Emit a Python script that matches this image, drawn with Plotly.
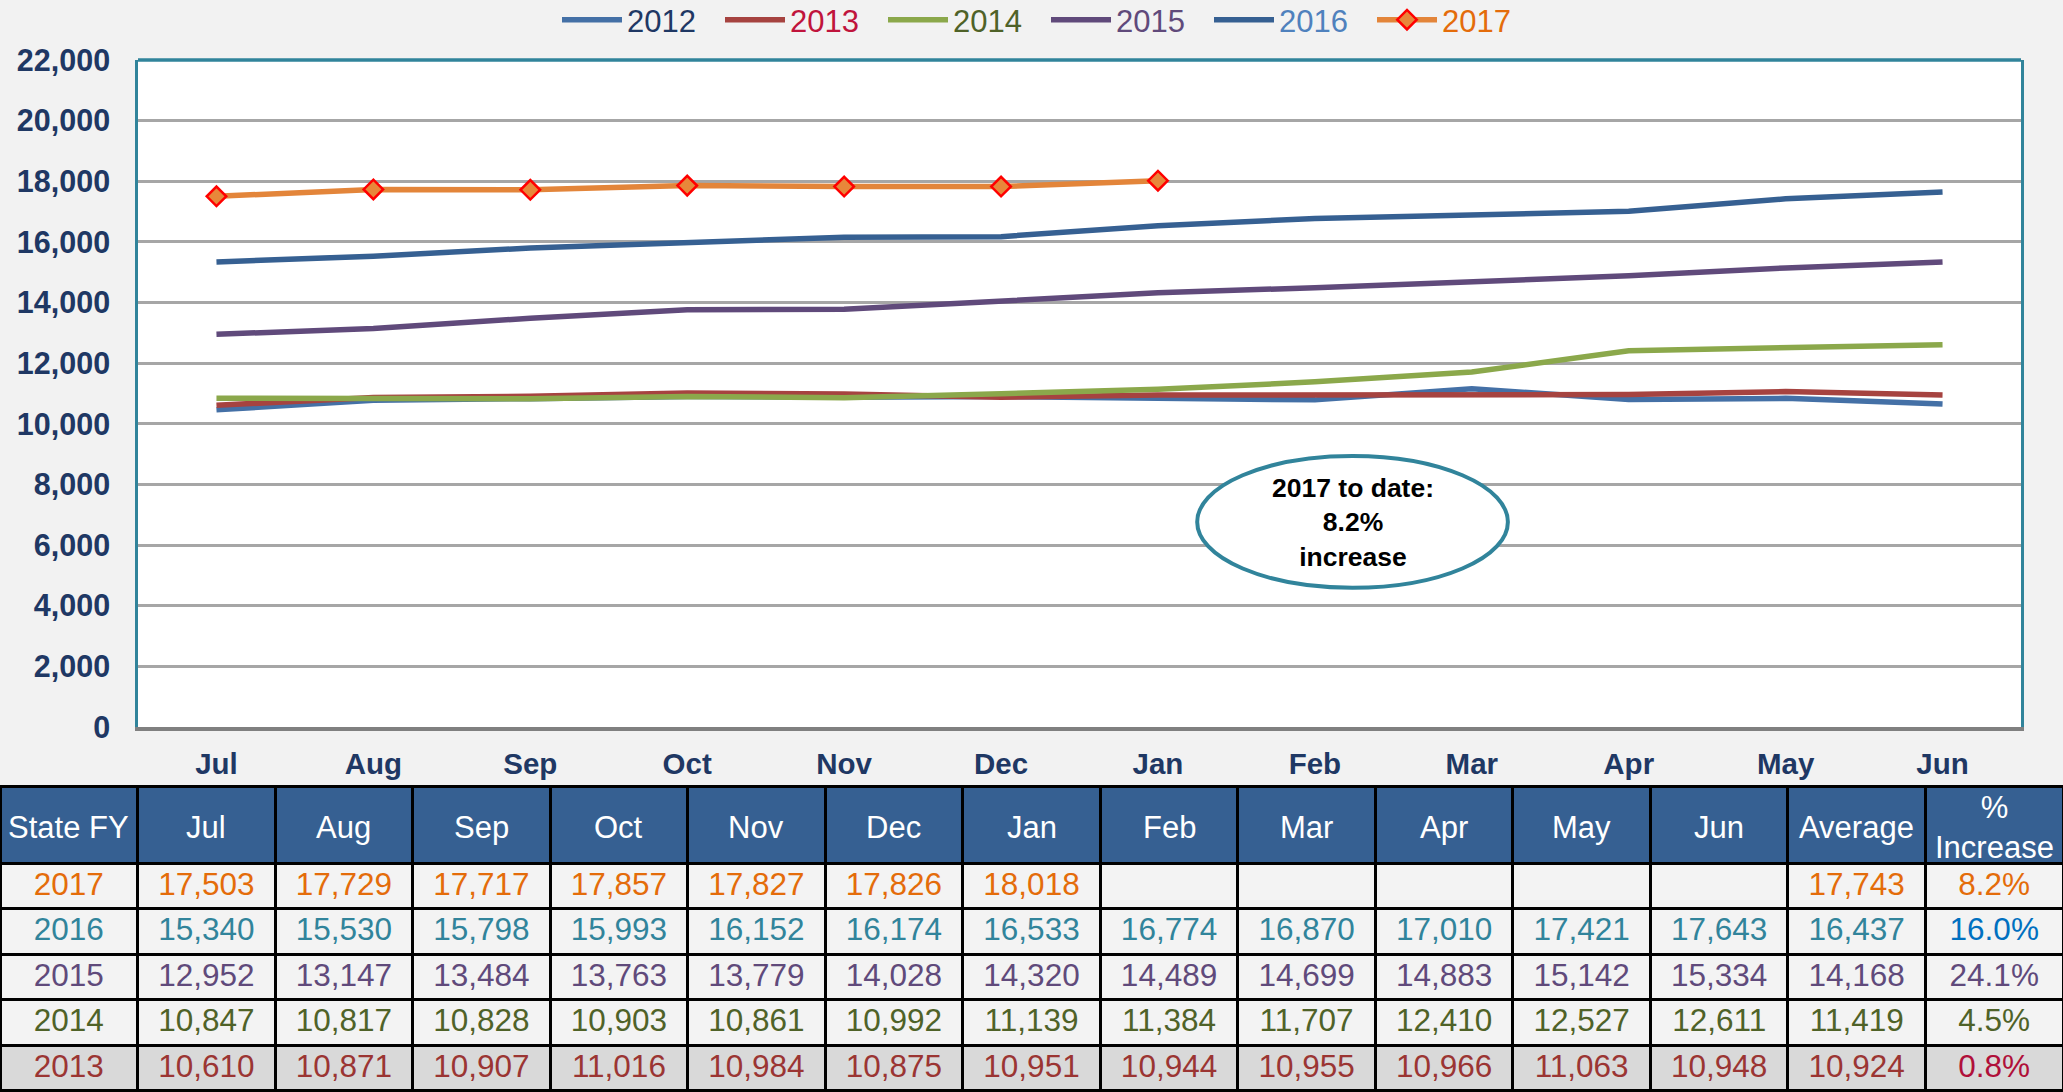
import plotly.graph_objects as go

months = ["Jul", "Aug", "Sep", "Oct", "Nov", "Dec", "Jan", "Feb", "Mar", "Apr", "May", "Jun"]

v2012 = [10460, 10780, 10830, 10900, 10880, 10900, 10840, 10790, 11160, 10800, 10840, 10650]
v2013 = [10610, 10871, 10907, 11016, 10984, 10875, 10951, 10944, 10955, 10966, 11063, 10948]
v2014 = [10847, 10817, 10828, 10903, 10861, 10992, 11139, 11384, 11707, 12410, 12527, 12611]
v2015 = [12952, 13147, 13484, 13763, 13779, 14028, 14320, 14489, 14699, 14883, 15142, 15334]
v2016 = [15340, 15530, 15798, 15993, 16152, 16174, 16533, 16774, 16870, 17010, 17421, 17643]
v2017 = [17503, 17729, 17717, 17857, 17827, 17826, 18018, None, None, None, None, None]

table_years = ["2017", "2016", "2015", "2014", "2013"]
table_avg = [17743, 16437, 14168, 11419, 10924]
table_pct = ["8.2%", "16.0%", "24.1%", "4.5%", "0.8%"]
header_labels = ["State FY"] + months + ["Average", "%<br>Increase"]

y_ticks = list(range(0, 22001, 2000))

FONT = "Liberation Sans, Arial, sans-serif"
NAVY = "#1F3864"
TEAL = "#31849B"
W, H = 2063, 1092

series = [
    ("2012", v2012, "#4470A6", NAVY, False),
    ("2013", v2013, "#A64340", "#C0143C", False),
    ("2014", v2014, "#8BA84B", "#4F6228", False),
    ("2015", v2015, "#604A7B", "#604A7B", False),
    ("2016", v2016, "#366092", "#4F81BD", False),
    ("2017", v2017, "#E3853A", "#E46C0A", True),
]

fig = go.Figure()
for name, vals, lc, tc, mk in series:
    fig.add_trace(go.Scatter(
        x=months, y=vals, mode="lines+markers" if mk else "lines",
        name=f"<span style='color:{tc}'>{name}</span>",
        line=dict(color=lc, width=5.5),
        marker=dict(symbol="diamond", size=15, color="#E8873A",
                    line=dict(color="#FF0000", width=2.5)) if mk else None,
        connectgaps=False, hoverinfo="x+y",
    ))

# Table
def fmt(v):
    return "" if v is None else f"{v:,}"

rows = [v2017, v2016, v2015, v2014, v2013]
row_colors = ["#E46C0A", "#31849B", "#604A7B", "#4F6228", "#9B3533"]
pct_colors = ["#E46C0A", "#0070C0", "#604A7B", "#4F6228", "#B0103A"]
row_fills = ["#F3F3F3", "#F3F3F3", "#F3F3F3", "#F3F3F3", "#D9D9D9"]

columns = [table_years]
for i in range(12):
    columns.append([fmt(r[i]) for r in rows])
columns.append([f"{a:,}" for a in table_avg])
columns.append(table_pct)

font_colors = [row_colors for _ in range(14)] + [pct_colors]
fill_colors = [row_fills for _ in range(15)]

TABLE_TOP = 786
HEADER_H = 77
ncol = len(header_labels)

fig.add_trace(go.Table(
    domain=dict(x=[0, 1], y=[0, 1 - TABLE_TOP / H]),
    columnwidth=[1] * ncol,
    header=dict(values=[""] * ncol, fill_color="#366092",
                line=dict(color="black", width=3), align="center",
                font=dict(family=FONT, size=29, color="white"), height=HEADER_H),
    cells=dict(values=columns, fill_color=fill_colors,
               line=dict(color="black", width=3), align="center",
               font=dict(family=FONT, size=31.5, color=font_colors), height=45.5),
))

annotations = [
    dict(x=7.24, y=6750, xref="x", yref="y", showarrow=False,
         text="<b>2017 to date:<br>8.2%<br>increase</b>",
         font=dict(family=FONT, size=26.5, color="black"), align="center"),
]
# header labels of the table
for i, lab in enumerate(header_labels):
    annotations.append(dict(
        x=(i + 0.5) / ncol, y=1 - (TABLE_TOP + HEADER_H / 2 + 3) / H, xref="paper", yref="paper",
        xanchor="center", yanchor="middle", showarrow=False, text=lab, align="center",
        font=dict(family=FONT, size=31, color="white")))

fig.update_layout(
    width=W, height=H, autosize=False,
    margin=dict(l=0, r=0, t=0, b=0, autoexpand=False),
    paper_bgcolor="#F2F2F2", plot_bgcolor="white",
    font=dict(family=FONT),
    showlegend=True,
    legend=dict(orientation="h", x=557 / W, xanchor="left", y=1 - 20 / H, yanchor="middle",
                font=dict(family=FONT, size=31), bgcolor="rgba(0,0,0,0)",
                entrywidth=88, entrywidthmode="pixels", itemwidth=60),
    xaxis=dict(domain=[138 / W, 2021 / W], range=[-0.5, 11.5], type="category",
               showgrid=False, showline=True, linecolor="#808080", linewidth=4,
               ticks="", tickfont=dict(family=FONT, size=29.5, color=NAVY, weight="bold"),
               ticklabelstandoff=8, zeroline=False),
    yaxis=dict(domain=[1 - 727 / H, 1 - 60 / H], range=[0, 22000],
               tickvals=y_ticks, tickformat=",", showgrid=True, gridcolor="#A6A6A6", gridwidth=2.5,
               showline=True, linecolor=TEAL, linewidth=2.5, mirror=True, zeroline=False,
               ticks="", tickfont=dict(family=FONT, size=30.5, color=NAVY, weight="bold"),
               ticklabelstandoff=19),
    shapes=[
        dict(type="line", xref="x domain", yref="y domain", x0=0, x1=1, y0=1, y1=1,
             line=dict(color=TEAL, width=3.5)),
        dict(type="circle", xref="x", yref="y", x0=6.25, x1=8.23, y0=4590, y1=8940,
             fillcolor="white", line=dict(color=TEAL, width=4), layer="above"),
    ],
    annotations=annotations,
)

fig.write_html("out.html", config={"displayModeBar": False},
               post_script="document.body.style.margin='0';document.body.style.overflow='hidden';")
